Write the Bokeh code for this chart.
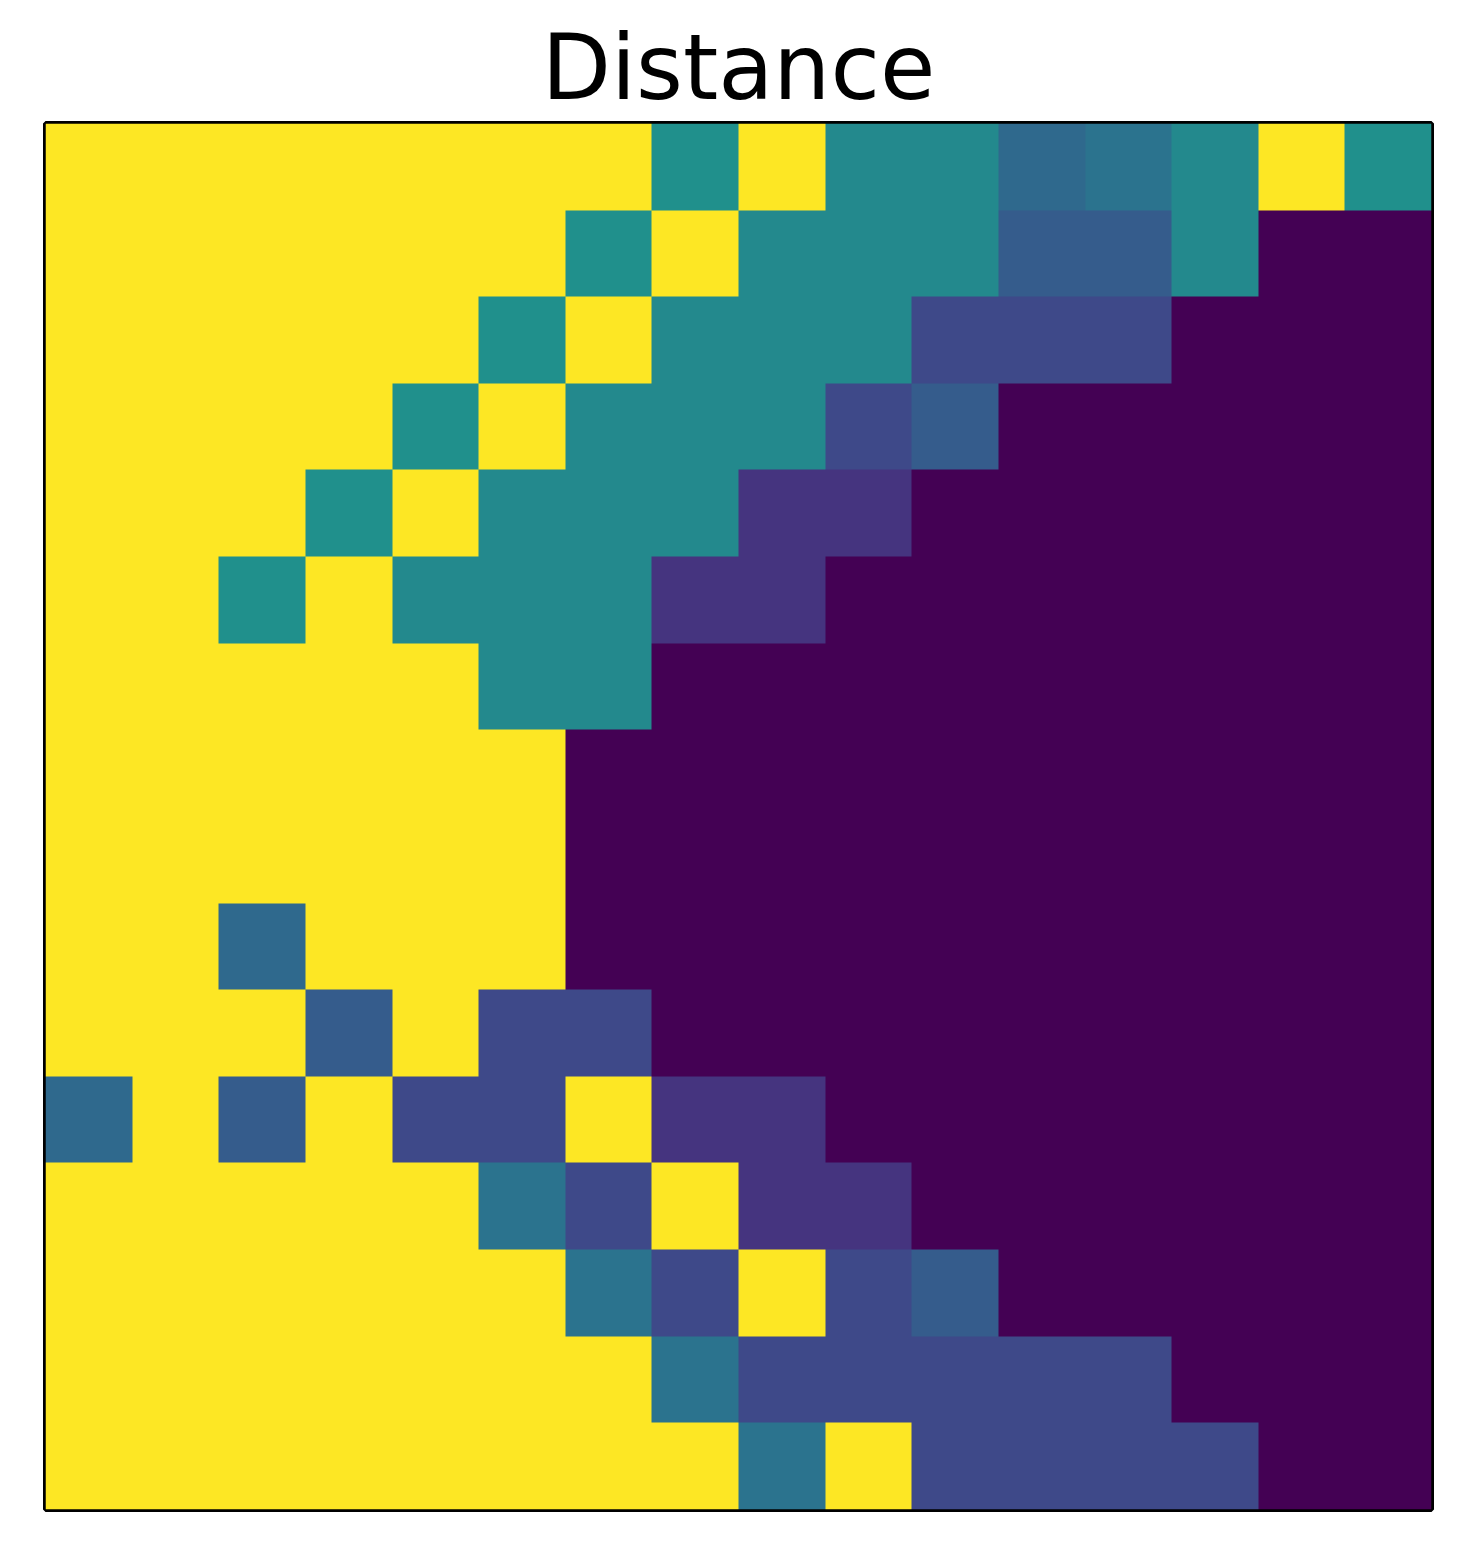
import numpy as np
from bokeh.plotting import figure
from bokeh.models import LinearColorMapper, Title
from bokeh.palettes import Viridis256
from bokeh.embed import file_html
from bokeh.resources import INLINE

# Distance matrix (16 x 16), rows listed top to bottom, values in [0, 1]
Y, P = 1.0, 0.0
Td, T = 0.50, 0.47
A, B, C, D, E = 0.15, 0.22, 0.29, 0.34, 0.38

distance = [
    [Y, Y, Y, Y, Y, Y, Y, Td, Y, T, T, D, E, T, Y, Td],
    [Y, Y, Y, Y, Y, Y, Td, Y, T, T, T, C, C, T, P, P],
    [Y, Y, Y, Y, Y, Td, Y, T, T, T, B, B, B, P, P, P],
    [Y, Y, Y, Y, Td, Y, T, T, T, B, C, P, P, P, P, P],
    [Y, Y, Y, Td, Y, T, T, T, A, A, P, P, P, P, P, P],
    [Y, Y, Td, Y, T, T, T, A, A, P, P, P, P, P, P, P],
    [Y, Y, Y, Y, Y, T, T, P, P, P, P, P, P, P, P, P],
    [Y, Y, Y, Y, Y, Y, P, P, P, P, P, P, P, P, P, P],
    [Y, Y, Y, Y, Y, Y, P, P, P, P, P, P, P, P, P, P],
    [Y, Y, D, Y, Y, Y, P, P, P, P, P, P, P, P, P, P],
    [Y, Y, Y, C, Y, B, B, P, P, P, P, P, P, P, P, P],
    [D, Y, C, Y, B, B, Y, A, A, P, P, P, P, P, P, P],
    [Y, Y, Y, Y, Y, E, B, Y, A, A, P, P, P, P, P, P],
    [Y, Y, Y, Y, Y, Y, E, B, Y, B, C, P, P, P, P, P],
    [Y, Y, Y, Y, Y, Y, Y, E, B, B, B, B, B, P, P, P],
    [Y, Y, Y, Y, Y, Y, Y, Y, E, Y, B, B, B, B, P, P],
]
title_text = "Distance"

n = len(distance)
img = np.flipud(np.array(distance, dtype=float))

p = figure(
    width=1450, height=1549,
    x_range=(0, n), y_range=(0, n),
    output_backend="svg", toolbar_location=None,
    min_border_left=45, min_border_right=19,
    min_border_top=20, min_border_bottom=40,
    title=" ",
)
mapper = LinearColorMapper(palette=Viridis256, low=0.0, high=1.0)
p.image(image=[img], x=0, y=0, dw=n, dh=n, color_mapper=mapper)

p.axis.visible = False
p.grid.visible = False
p.outline_line_color = "black"
p.outline_line_width = 5
p.outline_line_alpha = 1.0
p.background_fill_color = "white"
p.border_fill_color = "white"

# outer spacer (the figure's own title slot) pushes the real title down a bit
p.title.text_font_size = "6px"
p.title.standoff = 0

main_title = Title(
    text=title_text,
    text_font="DejaVu Sans",
    text_font_size="90px",
    text_font_style="normal",
    align="center",
    text_color="black",
    standoff=8,
)
p.add_layout(main_title, "above")

open("out.html", "w").write(file_html(p, INLINE))
